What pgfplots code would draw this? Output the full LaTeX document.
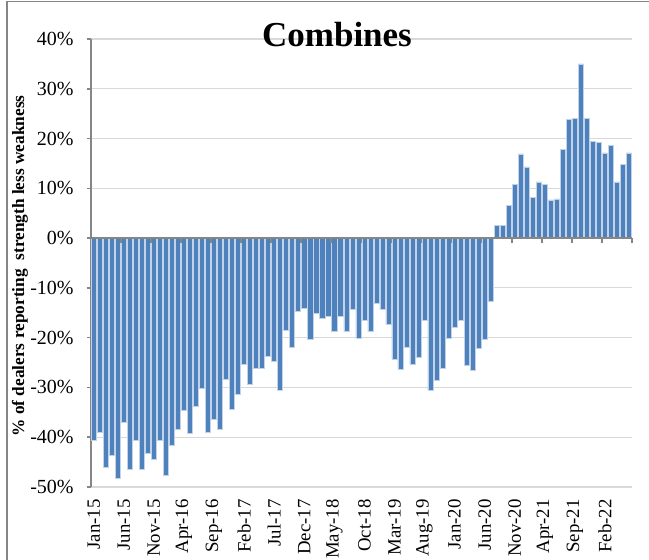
\documentclass[border=0pt]{standalone}
\usepackage{fontspec}
\setmainfont{Liberation Serif}
\usepackage{pgfplots}
\usepackage{pgfplotstable}
\pgfplotsset{compat=1.18}
\definecolor{barblue}{HTML}{4F81BD}
\definecolor{gridgray}{HTML}{D9D9D9}
\definecolor{axisgray}{HTML}{868686}
\pgfplotstableread{
x y
0 -40.7
1 -39.1
2 -46.0
3 -43.6
4 -48.3
5 -37.0
6 -46.4
7 -40.7
8 -46.4
9 -43.3
10 -44.4
11 -40.7
12 -47.7
13 -41.7
14 -38.5
15 -34.6
16 -39.3
17 -33.8
18 -30.1
19 -39.1
20 -36.4
21 -38.3
22 -28.3
23 -34.3
24 -31.4
25 -25.4
26 -29.3
27 -26.2
28 -26.2
29 -23.8
30 -24.8
31 -30.6
32 -18.5
33 -21.9
34 -14.6
35 -14.0
36 -20.4
37 -15.1
38 -16.1
39 -15.6
40 -18.8
41 -15.6
42 -18.8
43 -14.3
44 -20.1
45 -16.6
46 -18.8
47 -13.0
48 -14.3
49 -17.4
50 -24.3
51 -26.4
52 -21.9
53 -25.4
54 -24.0
55 -16.6
56 -30.6
57 -28.5
58 -26.2
59 -20.1
60 -18.0
61 -16.6
62 -25.6
63 -26.6
64 -22.2
65 -20.3
66 -12.7
67 2.6
68 2.6
69 6.6
70 10.8
71 16.9
72 14.3
73 8.2
74 11.3
75 10.8
76 7.7
77 7.9
78 17.9
79 23.8
80 24.0
81 35.0
82 24.0
83 19.5
84 19.2
85 17.1
86 18.7
87 11.3
88 14.8
89 17.1
}\datatable
\begin{document}
\begin{tikzpicture}
\path[use as bounding box] (0,0) rectangle (324.5pt,280pt);
\draw[axisgray, line width=0.6pt] (3.5pt,0) -- (3.5pt,279.4pt) -- (324.5pt,279.4pt);
\begin{axis}[
  at={(45.35pt,36.5pt)}, anchor=south west,
  scale only axis,
  width=270.65pt, height=224pt,
  xmin=-0.5, xmax=89.5,
  ymin=-50, ymax=40,
  axis y line*=left,
  axis x line*=bottom,
  x axis line style={draw=none},
  y axis line style={draw=axisgray, line width=0.8pt},
  ytick={-50,-40,...,40},
  yticklabels={-50\%,-40\%,-30\%,-20\%,-10\%,0\%,10\%,20\%,30\%,40\%},
  xtick={0,5,...,85},
  xticklabels={Jan-15,Jun-15,Nov-15,Apr-16,Sep-16,Feb-17,Jul-17,Dec-17,May-18,Oct-18,Mar-19,Aug-19,Jan-20,Jun-20,Nov-20,Apr-21,Sep-21,Feb-22},
  x tick label style={rotate=90, anchor=east, font=\fontsize{9.4}{11}\selectfont, inner sep=1pt, xshift=-3pt},
  y tick label style={font=\fontsize{10}{12}\selectfont, xshift=-3pt},
  xtick style={draw=none},
  ytick style={draw=axisgray, line width=0.8pt},
  tick align=outside,
  major tick length=2pt,
  ymajorgrids,
  grid style={gridgray, line width=0.6pt},
  ybar, bar width=2.55pt,
]
\addplot[fill=barblue, draw=barblue!35!white, line width=0.25pt] table[x=x,y=y] {\datatable};
\end{axis}
\begin{axis}[
  at={(45.35pt,36.5pt)}, anchor=south west,
  scale only axis,
  width=270.65pt, height=224pt,
  xmin=-0.5, xmax=89.5,
  ymin=-50, ymax=40,
  axis x line=middle,
  axis y line=none,
  axis line style={-, draw=axisgray, line width=0.8pt},
  xtick={4.5,9.5,...,89.5},
  xticklabels={},
  ytick=\empty,
  tick align=outside,
  major tick length=2.5pt,
  xtick style={draw=axisgray, line width=0.8pt},
]
\addplot[draw=none] coordinates {(0,0)};
\end{axis}
\node[anchor=base, font=\bfseries\fontsize{17.5}{20}\selectfont] at (168.5pt,256.5pt) {Combines};
\node[rotate=90, font=\bfseries\fontsize{8.65}{10}\selectfont] at (10pt,147pt) {\% of dealers reporting\ \ strength less weakness};
\end{tikzpicture}
\end{document}
